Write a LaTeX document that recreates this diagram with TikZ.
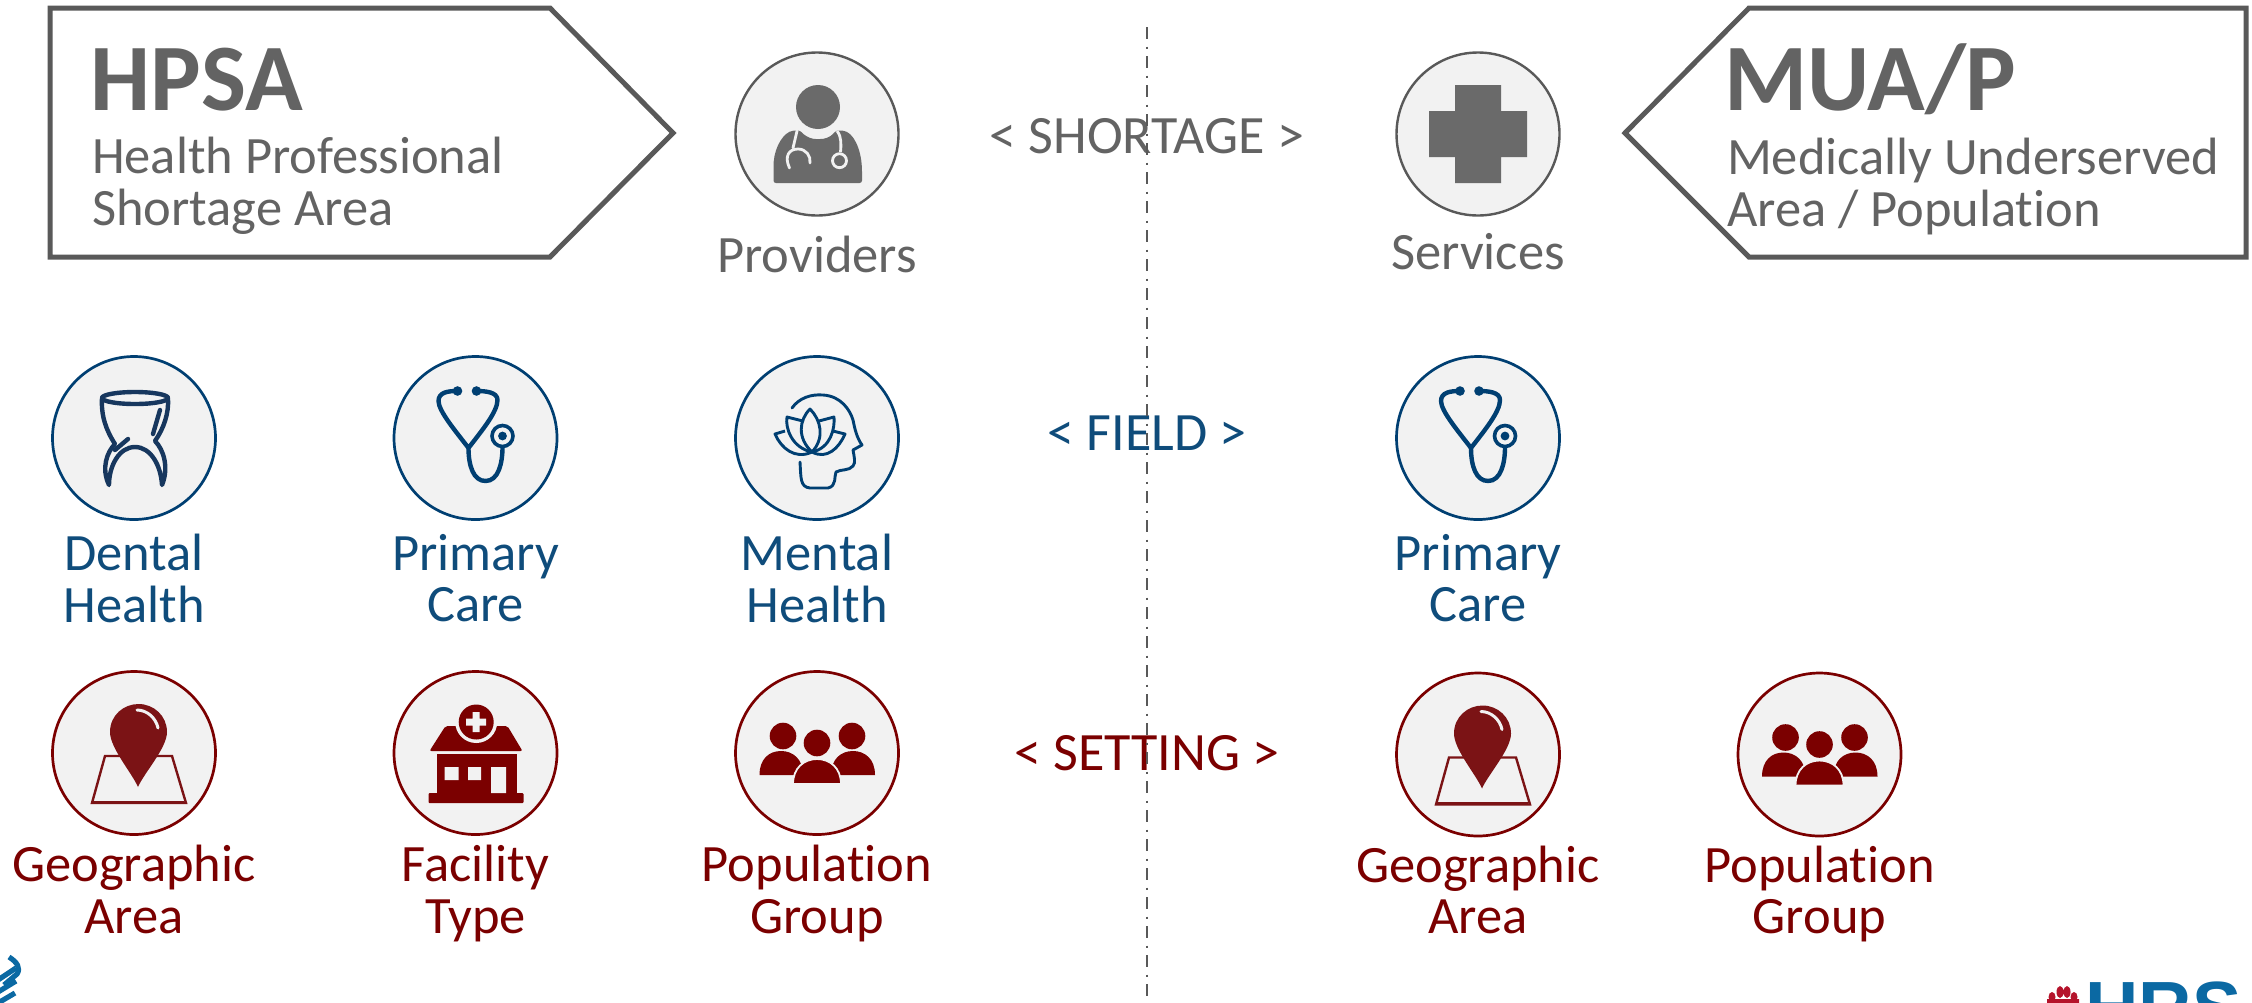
\documentclass[tikz,border=0pt]{standalone}
\usepackage{fontspec}
\setmainfont{Carlito}[Ligatures=NoCommon]
\newfontfamily\logofont{Liberation Sans}
\usetikzlibrary{positioning}
\setlength{\lineskiplimit}{-100pt}

\definecolor{greyline}{HTML}{595959}
\definecolor{greytext}{HTML}{636363}
\definecolor{blueline}{HTML}{003F72}
\definecolor{bluetext}{HTML}{0F4C7B}
\definecolor{toothblue}{HTML}{17375E}
\definecolor{redline}{HTML}{7B0000}
\definecolor{pinred}{HTML}{7B1315}
\definecolor{discfill}{HTML}{F2F2F2}
\definecolor{logoblue}{HTML}{0B69A3}
\definecolor{logored}{HTML}{B5132B}

\tikzset{
	disc/.style={draw, circle, fill=discfill, line width=1.35pt, minimum size=81.5pt, inner sep=0pt, outer sep=0pt},
	greydisc/.style={disc, draw=greyline, line width=1.2pt},
	bluedisc/.style={disc, draw=blueline},
	reddisc/.style={disc, draw=redline},
	caption/.style={align=center, inner sep=0pt, outer sep=0pt, font=\fontsize{26.25}{25.6}\selectfont},
	bluecaption/.style={caption, text=bluetext},
	redcaption/.style={caption, text=redline},
	greycaption/.style={caption, text=greytext},
	settag/.style={anchor=base, font=\fontsize{27}{27}\selectfont},
	tagbox/.style={draw=greyline, line width=2.5pt, fill=white, line join=miter},
	tagtitle/.style={anchor=base west, inner sep=0pt, text=greytext, font=\fontsize{47.6}{47.6}\selectfont\bfseries},
	tagtext/.style={caption, anchor=north west, align=left, text=greytext},
	doctorpic/.pic={
		\fill[greyline!90!white] (1,-27) circle (22);
		\fill[greyline!90!white, rounded corners=1.2pt] (-43.5,49) -- (-43.5,30) .. controls (-42,12) and (-33,-2) .. (-22,-3.5) -- (-17,-3.5) .. controls (-10,4) and (-4,5) .. (1,5) .. controls (7,5) and (13,4) .. (19,-3.5) -- (24,-3.5) .. controls (36,-2) and (44,14) .. (45,36) -- (45,49) -- cycle;
		\draw[discfill, line width=1.4pt, line cap=round] (-20,-3) -- (-24,14);
		\draw[discfill, line width=1.4pt, line cap=round] (-27.5,34) .. controls (-33,22) and (-28,15) .. (-19,15) .. controls (-11,15) and (-6,22) .. (-7,29);
		\draw[discfill, line width=1.4pt] (20,-3) .. controls (25,3) and (24,12) .. (23.5,18);
		\draw[discfill, line width=1.4pt] (22.5,26.7) circle (7);
	},
	crosspic/.pic={
		\fill[greyline!90!white] (-23,-49) -- (23,-49) -- (23,-23) -- (49,-23) -- (49,23) -- (23,23) -- (23,49) -- (-23,49) -- (-23,23) -- (-49,23) -- (-49,-23) -- (-23,-23) -- cycle;
	},
	toothpic/.pic={
		\draw[toothblue, line width=2.2pt, line join=round, line cap=round] (1,-40) ellipse (33 and 6);
		\draw[toothblue, line width=2.2pt, line join=round, line cap=round] (-32,-40) .. controls (-33,-22) and (-28,-8) .. (-19,6) .. controls (-27,14) and (-33,30) .. (-25,47) .. controls (-25,28) and (-15,9) .. (1,9) .. controls (17,9) and (27,28) .. (28,47) .. controls (35,30) and (30,12) .. (21,3) .. controls (30,-10) and (35,-25) .. (34,-40);
		\draw[toothblue, line width=2.2pt, line cap=round] (26,-28) -- (19,-4);
		\draw[toothblue, line width=2.2pt, line cap=round] (-6,1) -- (-19,12);
	},
	stethpic/.pic={
		\draw[blueline, line width=2.2pt, line join=round] (-18,-47) .. controls (-27,-47) and (-37,-46) .. (-37,-37) .. controls (-37,-27) and (-20,-7) .. (-7,10) .. controls (6,-7) and (22,-26) .. (22,-38) .. controls (22,-46) and (10,-47) .. (1,-47);
		\fill[blueline] (-18,-47) circle (4.8) (1,-47) circle (4.8);
		\draw[blueline, line width=2.2pt] (-7,10) .. controls (-7,28) and (-2,43) .. (10,43) .. controls (23,43) and (27,25) .. (27,9);
		\draw[blueline, line width=1.8pt] (27,-2) circle (10.5);
		\fill[blueline] (27,-2) circle (4.4);
	},
	headpic/.pic={
		\draw[blueline, line width=1.45pt, line join=round, line cap=round] (-25,-30) .. controls (-18,-40) and (-6,-44) .. (6,-43) .. controls (24,-42) and (33,-28) .. (36,-18) .. controls (38,-8) and (40,0) .. (45,7) -- (36,12) .. controls (37,18) and (39,25) .. (36,28) .. controls (32,33) and (24,31) .. (19,34) .. controls (17,38) and (20,48) .. (11,50) -- (-7,50) .. controls (-17,49) and (-16,40) .. (-17,24);
		\draw[blueline, line width=1.45pt, line join=round] (-5,14) .. controls (-20,0) and (-18,-18) .. (-7,-29) .. controls (4,-18) and (8,0) .. (-5,14);
		\draw[blueline, line width=1.45pt, line join=round] (-5,14) .. controls (-25,10) and (-32,-10) .. (-30,-21) -- (-14,-17);
		\draw[blueline, line width=1.45pt, line join=round] (-5,14) .. controls (14,10) and (18,-10) .. (17,-21) -- (2,-17);
		\draw[blueline, line width=1.45pt, line join=round] (-5,14) .. controls (-22,22) and (-36,10) .. (-42,-4) -- (-32,-7);
		\draw[blueline, line width=1.45pt, line join=round] (-5,14) .. controls (10,22) and (22,10) .. (28,-4) -- (16,-7);
	},
	pinpic/.pic={
		\draw[pinred, line width=1.2pt, line join=miter] (-29,3) -- (38,3) -- (52,50) -- (-42,50) -- cycle;
		\draw[pinred, line width=1.2pt] (-42,49) -- (50,49);
		\fill[pinred] (4,34) .. controls (-2,20) and (-24,-5) .. (-24,-21) .. controls (-24,-38) and (-10,-49) .. (4.5,-49) .. controls (20,-49) and (33,-37) .. (33,-21) .. controls (33,-5) and (10,20) .. (4,34) -- cycle;
		\draw[discfill, line width=1.5pt, line cap=round] (3,-43) .. controls (13,-43) and (22,-35) .. (24,-25);
	},
	hospitalpic/.pic={
		\fill[redline, rounded corners=1pt] (-30,-27) -- (32,-27) -- (47,-2) -- (-46,-2) -- cycle;
		\fill[redline] (-39,1.3) rectangle (41,41);
		\fill[redline, rounded corners=.5pt] (-47,40) rectangle (48,50);
		\fill[discfill] (0.7,-31) circle (21);
		\fill[redline] (0.7,-31) circle (17.5);
		\fill[discfill] (-2.8,-41) rectangle (4.2,-21) (-9.3,-34.5) rectangle (10.7,-27.5);
		\fill[discfill] (-31,14) rectangle (-17,27) (-7.5,14) rectangle (5.7,27) (15.7,14) rectangle (30.7,40);
	},
	peoplepic/.pic={
		\fill[redline] (-34,-17) circle (13.3) (35,-17) circle (13.3);
		\fill[redline] (-57.5,22) .. controls (-57.5,6) and (-48,-2) .. (-36,-2) .. controls (-24,-2) and (-14,6) .. (-14,22) -- cycle;
		\fill[redline] (58,22) .. controls (58,6) and (48,-2) .. (36,-2) .. controls (24,-2) and (14,6) .. (14,22) -- cycle;
		\fill[redline] (0,-10) circle (13.3);
		\filldraw[redline, draw=discfill, line width=.9pt] (-24,31) .. controls (-24,15) and (-13,6) .. (0,6) .. controls (13,6) and (24,15) .. (24,31) -- cycle;
		\fill[discfill] (-26,31) rectangle (26,34);
	},
}

\begin{document}
\begin{tikzpicture}[x=0.5pt, y=-0.5pt, node distance=170.75pt, >=stealth]
	\useasboundingbox (0,0) rectangle (2252,1002);
	\clip (0,0) rectangle (2252,1002);

	\draw[tagbox] (50,8) -- (550,8) -- (673,133) -- (550,257) -- (50,257) -- cycle;
	\draw[tagbox] (2246,8) -- (1749,8) -- (1625,133) -- (1749,257) -- (2246,257) -- cycle;

	\node (hpsa) [tagtitle] at (90,110) {HPSA};
	\node (hpsatext) [tagtext] at (92,137.5) {\strut Health Professional\\Shortage Area};
	\node (muap) [tagtitle] at (1724,110) {MUA/P};
	\node (muaptext) [tagtext] at (1727,138.5) {\strut Medically Underserved\\Area / Population};

	\node (dental) [bluedisc] at (134,438) {};
	\node (primary) [bluedisc, right of=dental] {};
	\node (mental) [bluedisc, right of=primary] {};
	\node (primaryr) [bluedisc, right of=mental, node distance=330.5pt] {};
	\node (providers) [greydisc, above of=mental, node distance=152pt] {};
	\node (services) [greydisc, above of=primaryr, node distance=152pt] {};
	\node (geo) [reddisc, below of=dental, node distance=157.5pt] {};
	\node (facility) [reddisc, right of=geo] {};
	\node (population) [reddisc, right of=facility] {};
	\node (geor) [reddisc, right of=population, node distance=330.5pt, yshift=-.75pt] {};
	\node (populationr) [reddisc, right of=geor] {};

	\pic at (providers) {doctorpic};
	\pic at (services) {crosspic};
	\pic at (dental) {toothpic};
	\pic at (primary) {stethpic};
	\pic at (mental) {headpic};
	\pic at (primaryr) {stethpic};
	\pic at (geo) {pinpic};
	\pic at (facility) {hospitalpic};
	\pic at (population) {peoplepic};
	\pic at (geor) {pinpic};
	\pic at (populationr) {peoplepic};

	\node (providerslabel) [greycaption, below=10.5pt of providers] {\strut Providers};
	\node (serviceslabel) [greycaption, below=9pt of services] {\strut Services};
	\node (dentallabel) [bluecaption, below=7.5pt of dental] {\strut Dental\\Health};
	\node (primarylabel) [bluecaption, below=7.5pt of primary] {\strut Primary\\Care};
	\node (mentallabel) [bluecaption, below=7.5pt of mental] {\strut Mental\\Health};
	\node (primaryrlabel) [bluecaption, below=7.5pt of primaryr] {\strut Primary\\Care};
	\node (geolabel) [redcaption, below=5.5pt of geo] {\strut Geographic\\Area};
	\node (facilitylabel) [redcaption, below=5.5pt of facility] {\strut Facility\\Type};
	\node (populationlabel) [redcaption, below=5.5pt of population] {\strut Population\\Group};
	\node (georlabel) [redcaption, below=4.8pt of geor] {\strut Geographic\\Area};
	\node (populationrlabel) [redcaption, below=4.8pt of populationr] {\strut Population\\Group};

	\node (shortage) [greycaption, settag] at (1147,153) {< SHORTAGE >};
	\node (field) [bluecaption, settag] at (1147,450) {< FIELD >};
	\node (setting) [redcaption, settag] at (1147,770) {< SETTING >};

	\coordinate (divtop) at (1147,27);
	\coordinate (divbottom) at (1147,1002);
	\draw[greyline, line width=1pt, dash pattern=on 6pt off 3.8pt on 1pt off 3.7pt] (divtop) -- (divbottom);

	\draw[logoblue, line width=2.6pt] (9,957) .. controls (17,962) and (21,968) .. (17,974) -- (4,985);
	\draw[logoblue, line width=2.6pt] (-2,980) -- (16,968);
	\draw[logoblue, line width=2.6pt] (-2,992) -- (16,981);
	\draw[logoblue, line width=2.6pt] (-2,1003) -- (15,993);

	\fill[logored] (2052,997) ellipse (3.5 and 5) (2060,992) ellipse (3.5 and 6) (2067,992) ellipse (3.5 and 6) (2074,997) ellipse (3.5 and 5) (2047,1003) rectangle (2079,999);
	\node (hrsa) [anchor=base west, inner sep=0pt, text=logoblue, font=\logofont\bfseries\fontsize{37}{37}\selectfont] at (2085,1033) {HRS};
\end{tikzpicture}
\end{document}
